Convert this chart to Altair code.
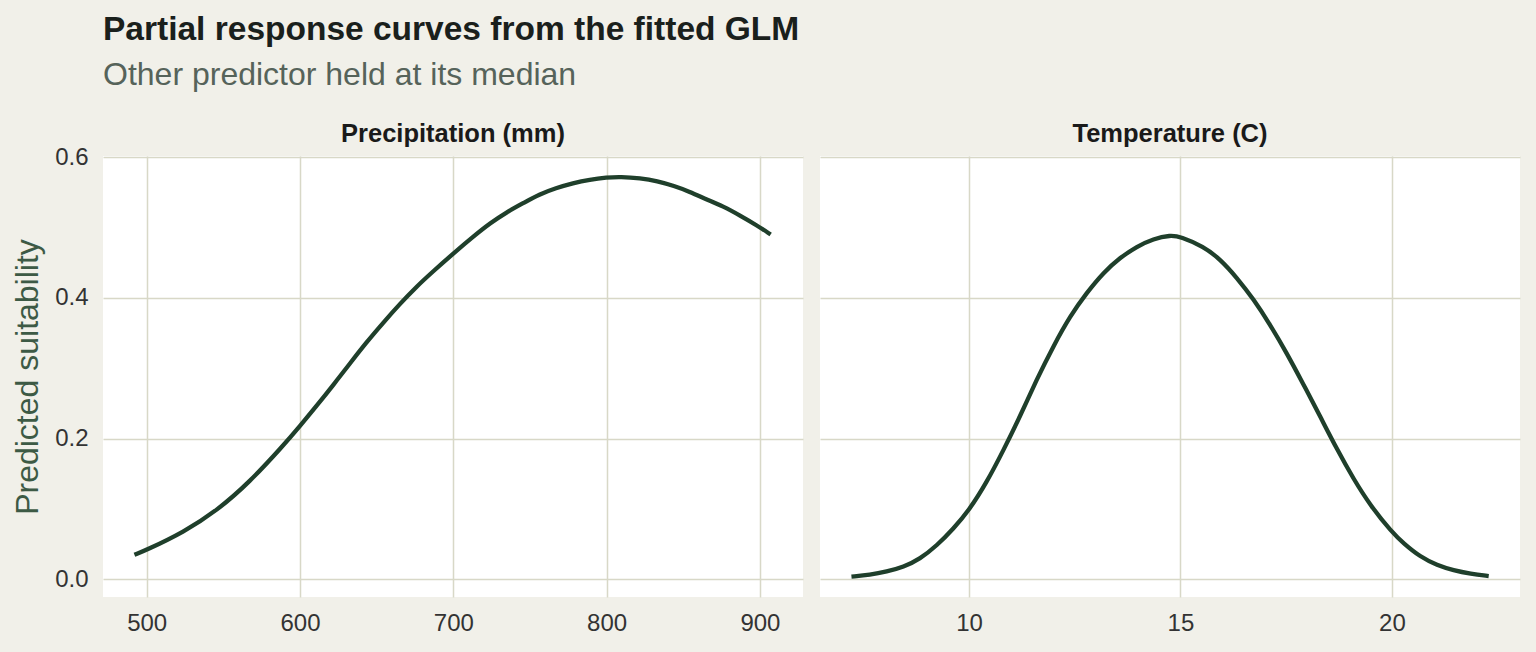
import altair as alt
import pandas as pd

# ---- data ----
precip_mm = [492, 500, 524, 546, 567, 589, 600, 611, 622, 633, 643, 654, 665, 676,
             687, 700, 713, 724, 735, 746, 756, 767, 778, 789, 800, 809, 822, 833,
             844, 854, 865, 876, 887, 898, 907]
precip_suit = [0.035, 0.042, 0.067, 0.098, 0.138, 0.190, 0.218, 0.247, 0.277, 0.308,
               0.336, 0.364, 0.391, 0.416, 0.438, 0.463, 0.487, 0.506, 0.522, 0.535,
               0.547, 0.556, 0.563, 0.568, 0.571, 0.572, 0.570, 0.566, 0.559, 0.551,
               0.540, 0.530, 0.517, 0.503, 0.490]

temp_c = [7.22, 7.66, 8.05, 8.45, 8.84, 9.24, 9.63, 10.0, 10.42, 10.81, 11.21, 11.6,
          12.0, 12.39, 12.78, 13.18, 13.57, 13.97, 14.36, 14.76, 15.0, 15.54, 15.94,
          16.33, 16.73, 17.12, 17.51, 17.91, 18.3, 18.7, 19.09, 19.49, 20.0, 20.28,
          20.67, 21.07, 21.46, 21.86, 22.29]
temp_suit = [0.004, 0.0066, 0.011, 0.0175, 0.029, 0.048, 0.072, 0.098, 0.138, 0.183,
             0.232, 0.284, 0.332, 0.374, 0.407, 0.436, 0.457, 0.473, 0.484, 0.489,
             0.487, 0.473, 0.455, 0.429, 0.398, 0.362, 0.322, 0.277, 0.232, 0.185,
             0.143, 0.105, 0.067, 0.051, 0.032, 0.020, 0.0128, 0.008, 0.0047]

panel_titles = ["Precipitation (mm)", "Temperature (C)"]
precip_ticks = [500, 600, 700, 800, 900]
temp_ticks = [10, 15, 20]
y_ticks = [0.0, 0.2, 0.4, 0.6]

FONT = "Liberation Sans"
LINE = "#1F3F2B"
BG = "#F1F0E9"
GRID = "#D8D8C7"

df_p = pd.DataFrame({"x": precip_mm, "y": precip_suit})
df_t = pd.DataFrame({"x": temp_c, "y": temp_suit})

yscale = alt.Scale(domain=[-0.025, 0.6015], nice=False, zero=False)


def panel(df, xdom, xticks, title, show_y):
    if show_y:
        yaxis = alt.Axis(values=y_ticks, format=".1f", title="Predicted suitability")
    else:
        yaxis = alt.Axis(values=y_ticks, labels=False, title=None)
    line = alt.Chart(df).mark_line(
        color=LINE, strokeWidth=4.3, interpolate="basis"
    ).encode(
        x=alt.X("x:Q", scale=alt.Scale(domain=xdom, nice=False, zero=False),
                axis=alt.Axis(values=xticks, format="d", title=None)),
        y=alt.Y("y:Q", scale=yscale, axis=yaxis),
    )
    lab = alt.Chart(pd.DataFrame({"t": [title]})).mark_text(
        font=FONT, fontSize=25.5, fontWeight="bold", color="#1A1A1A",
        baseline="alphabetic", align="center"
    ).encode(text="t:N", x=alt.value(350), y=alt.value(-14))
    return alt.layer(line, lab).properties(width=700, height=441)


left = panel(df_p, [471.5, 928.1], precip_ticks, panel_titles[0], True)
right = panel(df_t, [6.476, 23.03], temp_ticks, panel_titles[1], False)

chart = alt.hconcat(left, right, spacing=17).properties(
    title=alt.TitleParams(
        text="Partial response curves from the fitted GLM",
        subtitle="Other predictor held at its median",
        anchor="start", frame="group",
        font=FONT, fontSize=33.5, fontWeight="bold", color="#1A201C",
        subtitleFont=FONT, subtitleFontSize=32, subtitleColor="#56635A",
        subtitlePadding=13, offset=30,
    ),
    padding={"left": 11, "top": 12, "right": 16, "bottom": 21},
    background=BG,
).configure_view(
    fill="white", stroke=None
).configure_axis(
    labelFont=FONT, labelFontSize=24, labelColor="#333333",
    ticks=False, tickSize=0, domain=False,
    grid=True, gridColor=GRID, gridWidth=1.5,
    titleFont=FONT, titleFontSize=32, titleFontWeight="normal", titleColor="#3D5A45",
).configure_axisY(
    labelPadding=15, titlePadding=10
).configure_axisX(
    labelPadding=14
)

chart.save("out.html", embed_options={"renderer": "svg", "actions": False})
